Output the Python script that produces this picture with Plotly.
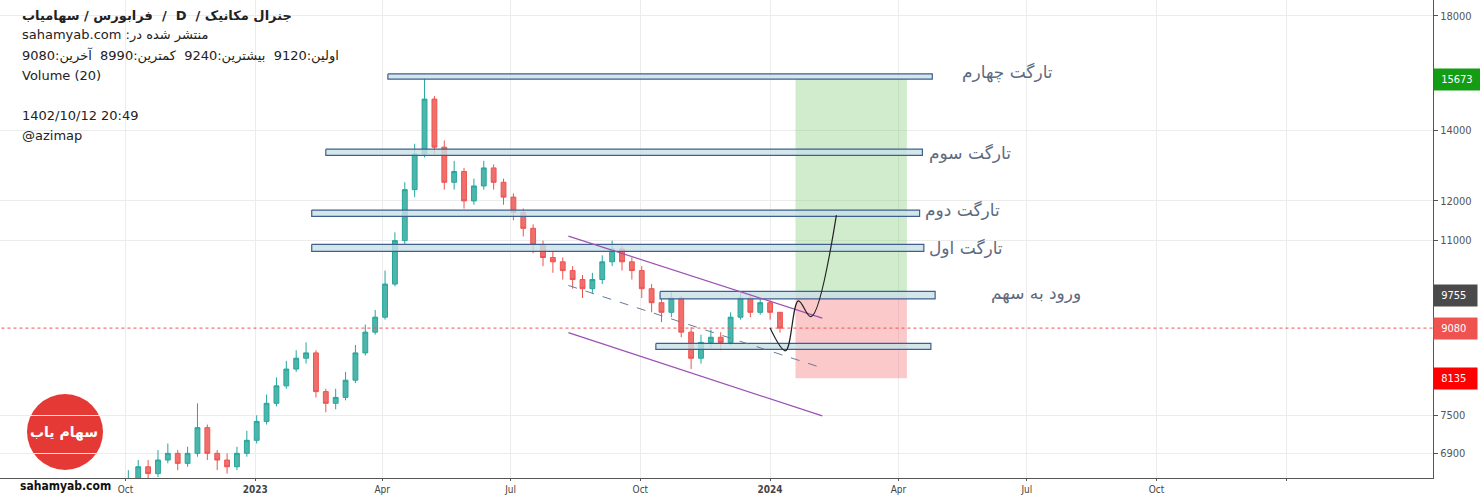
import math
import pandas as pd
import plotly.graph_objects as go

# weekly candles, Oct 2022 -> Jan 2024
week_start = "2022-10-03"
closes = [6500, 6700, 6600, 6800, 6900, 6750, 6900, 7300, 6900, 6800, 6700, 6900, 7100, 7400,
          7700, 8000, 8300, 8500, 8600, 7900, 7700, 7800, 8100, 8600, 9000, 9300, 10000, 11000,
          12300, 13300, 15000, 13500, 12500, 12800, 12000, 12400, 12900, 12500, 12100, 11700,
          11300, 10900, 10600, 10500, 10300, 10100, 9900, 10100, 10500, 10800, 10500, 10300,
          9900, 9600, 9400, 9700, 9000, 8500, 8800, 8900, 8800, 9300, 9700, 9400, 9600, 9400, 9080]
highs = [6650, 6800, 6800, 6950, 7050, 6950, 7000, 7700, 7350, 6950, 6900, 7000, 7250, 7500,
         7850, 8150, 8450, 8650, 8800, 8650, 7950, 7950, 8250, 8750, 9150, 9450, 10300, 11200,
         12500, 13600, 15700, 15100, 13700, 13100, 12900, 12600, 13100, 13000, 12600, 12200,
         11800, 11400, 11000, 10750, 10600, 10400, 10200, 10250, 10650, 11000, 10900, 10600,
         10400, 10000, 9700, 9850, 9750, 9100, 8950, 9050, 9000, 9400, 9850, 9800, 9700, 9650, 9240]
lows = [6400, 6450, 6500, 6550, 6750, 6650, 6700, 6850, 6800, 6650, 6600, 6650, 6850, 7050,
        7350, 7650, 7950, 8250, 8400, 7800, 7550, 7600, 7750, 8050, 8550, 8950, 9250, 9950,
        10900, 12100, 13200, 13300, 12300, 12300, 11800, 11900, 12300, 12300, 11900, 11500,
        11100, 10700, 10400, 10250, 10100, 9900, 9700, 9800, 10000, 10400, 10300, 10100,
        9700, 9400, 9200, 9300, 8900, 8300, 8400, 8700, 8650, 8750, 9250, 9300, 9350, 9250, 8990]
first_open = 6450

# zones: (start, end, top, bottom)
zone_start = ["2023-04-05", "2023-02-20", "2023-02-10", "2023-02-10", "2023-10-15", "2023-10-12"]
zone_end = ["2024-04-25", "2024-04-18", "2024-04-16", "2024-04-19", "2024-04-27", "2024-04-24"]
zone_top = [15850, 13440, 11760, 10910, 9840, 8780]
zone_bottom = [15673, 13260, 11600, 10745, 9680, 8665]

target_labels = ["تارگت چهارم", "تارگت سوم", "تارگت دوم", "تارگت اول", "ورود به سهم"]
label_right = [1055, 1013, 1002, 1005, 1083]
label_price = [15900, 13330, 11760, 10820, 9790]

take_profit, entry, stop, last = 15673, 9755, 8135, 9080
pos_start, pos_end = "2024-01-19", "2024-04-07"

channel_x = ["2023-08-11", "2024-02-07"]
channel_upper = [11110, 9280]
channel_lower = [8990, 7490]
channel_mid = [9970, 8320]

proj_x = ["2024-01-01", "2024-01-12", "2024-01-21", "2024-01-30", "2024-02-17"]
proj_y = [9080, 8640, 9640, 9310, 11630]

x_ticks = ["2022-10-01", "2023-01-01", "2023-04-01", "2023-07-01", "2023-10-01", "2024-01-01",
           "2024-04-01", "2024-07-01", "2024-10-01", "2025-01-01"]
x_ticktext = ["Oct", "<b>2023</b>", "Apr", "Jul", "Oct", "<b>2024</b>", "Apr", "Jul", "Oct", ""]
y_ticks = [6900, 7500, 11000, 12000, 14000, 18000]

dates = pd.date_range(week_start, periods=len(closes), freq="7D")
opens = [first_open] + closes[:-1]

RLE, PDF = "\u202b", "\u202c"
W = 1433  # plot width in px

fig = go.Figure()

fig.add_trace(go.Scatter(x=[pos_start, pos_end, pos_end, pos_start, pos_start],
                         y=[take_profit, take_profit, entry, entry, take_profit],
                         fill="toself", fillcolor="rgba(120,200,110,0.35)", line=dict(width=0),
                         mode="lines", hoverinfo="skip"))
fig.add_trace(go.Scatter(x=[pos_start, pos_end, pos_end, pos_start, pos_start],
                         y=[entry, entry, stop, stop, entry],
                         fill="toself", fillcolor="rgba(245,120,120,0.4)", line=dict(width=0),
                         mode="lines", hoverinfo="skip"))

for s, e, t, b in zip(zone_start, zone_end, zone_top, zone_bottom):
    fig.add_trace(go.Scatter(x=[s, e, e, s, s], y=[t, t, b, b, t], fill="toself",
                             fillcolor="rgba(200,225,230,0.8)", mode="lines",
                             line=dict(color="#3f5f8f", width=1.2), hoverinfo="skip"))

fig.add_trace(go.Scatter(x=["2022-06-01", "2025-06-01"], y=[last, last], mode="lines",
                         line=dict(color="#ef5350", width=1, dash="dot"), hoverinfo="skip"))

fig.add_trace(go.Candlestick(x=dates, open=opens, high=highs, low=lows, close=closes,
                             increasing=dict(line=dict(color="#26a69a", width=1), fillcolor="#4db6ac"),
                             decreasing=dict(line=dict(color="#ef5350", width=1), fillcolor="#ef6f6c"),
                             whiskerwidth=0))

fig.add_trace(go.Scatter(x=channel_x, y=channel_upper, mode="lines", line=dict(color="#9c4fb5", width=1.2)))
fig.add_trace(go.Scatter(x=channel_x, y=channel_lower, mode="lines", line=dict(color="#9c4fb5", width=1.2)))
fig.add_trace(go.Scatter(x=channel_x, y=channel_mid, mode="lines",
                         line=dict(color="#6a7a95", width=1, dash="dash")))
fig.add_trace(go.Scatter(x=proj_x, y=proj_y, mode="lines", line=dict(color="#222222", width=1.2, shape="spline")))

ann = []
# pure RTL strings render with their right edge at the anchor point
for t, lx, lp in zip(target_labels, label_right, label_price):
    ann.append(dict(x=lx / W, xref="paper", y=math.log10(lp), yref="y", text=RLE + t + PDF, showarrow=False,
                    font=dict(family="DejaVu Sans", size=17, color="#5d6a7e")))

for v, c in [(take_profit, "#149c14"), (entry, "#4a4a4a"), (last, "#ef5350"), (stop, "#ff0000")]:
    ann.append(dict(x=1, xref="paper", y=math.log10(v), yref="y", text=" " + str(v) + "  ", showarrow=False,
                    xanchor="left", bgcolor=c, font=dict(family="DejaVu Sans Condensed", size=11, color="white"),
                    borderpad=4))

info = [("<b>" + RLE + "جنرال مکانیک /  D  /  فرابورس / سهامیاب" + PDF + "</b>", 16),
        (RLE + "منتشر شده در: sahamyab.com" + PDF, 35),
        (RLE + "اولین:9120  بیشترین:9240  کمترین:8990  آخرین:9080 " + PDF, 55),
        ("Volume (20)", 75),
        ("1402/10/12 20:49", 115),
        ("@azimap", 135)]
for txt, py in info:
    ann.append(dict(x=20 / W, xref="paper", y=1 - py / 478, yref="paper", text=txt, showarrow=False,
                    xanchor="left", yanchor="middle", font=dict(family="DejaVu Sans", size=13, color="#222")))

ann.append(dict(x=28 / W, xref="paper", y=1 - 432 / 478, yref="paper", text="<b>" + RLE + "سهام یاب" + PDF + "</b>",
                showarrow=False, xanchor="left", yanchor="middle",
                font=dict(family="DejaVu Sans", size=14, color="white")))
ann.append(dict(x=18 / W, xref="paper", y=1 - 486 / 478, yref="paper", text="<b>sahamyab.com</b>",
                showarrow=False, xanchor="left", yanchor="middle",
                font=dict(family="DejaVu Sans Condensed", size=12, color="#111")))

fig.update_layout(
    width=1480, height=504, margin=dict(l=0, r=47, t=0, b=26, autoexpand=False),
    paper_bgcolor="white", plot_bgcolor="white", showlegend=False,
    annotations=ann,
    shapes=[dict(type="circle", xref="paper", yref="paper", x0=27 / W, x1=103 / W,
                 y0=1 - 470 / 478, y1=1 - 394 / 478, fillcolor="#e53935", line=dict(width=0),
                 layer="below")],
    xaxis=dict(range=["2022-07-04", "2025-04-15"], rangeslider=dict(visible=False), automargin=False,
               tickvals=x_ticks, ticktext=x_ticktext, gridcolor="#ececec", showline=True,
               linecolor="#555", ticks="outside", ticklen=2, tickcolor="#555",
               tickfont=dict(family="DejaVu Sans Condensed", size=10, color="#444")),
    yaxis=dict(type="log", side="right", range=[math.log10(6537), math.log10(18640)], automargin=False,
               tickvals=y_ticks, ticktext=[str(v) for v in y_ticks], gridcolor="#ececec",
               showline=True, linecolor="#555", ticks="outside", ticklen=4, tickcolor="#555",
               tickfont=dict(family="DejaVu Sans Condensed", size=11, color="#555")),
)

fig.write_html("out.html", config={"displayModeBar": False},
               post_script="document.body.style.margin='0px';")
